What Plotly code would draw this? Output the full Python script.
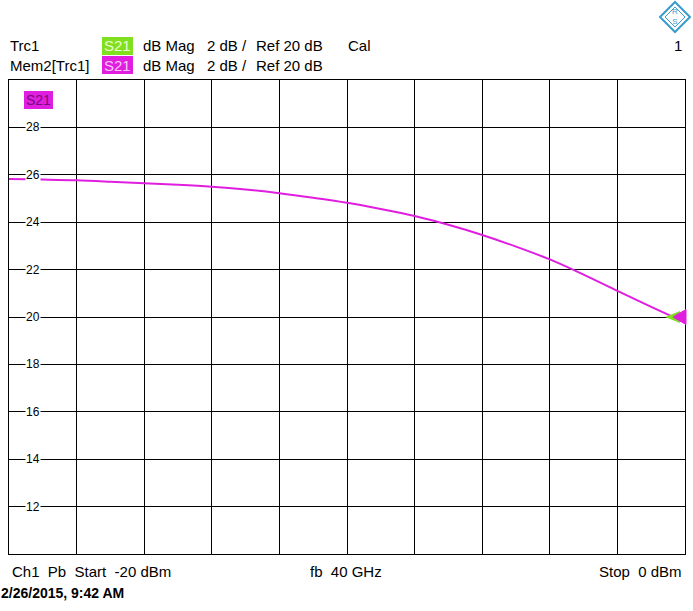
import plotly.graph_objects as go

# ---- data ----
power_dbm = [-20, -19, -18, -17, -16, -15, -14, -13, -12, -11, -10,
             -9, -8, -7, -6, -5, -4, -3, -2, -1, 0]
s21_db = [25.82, 25.80, 25.77, 25.71, 25.64, 25.58, 25.50, 25.38, 25.22, 25.03, 24.82,
          24.56, 24.26, 23.89, 23.46, 22.97, 22.43, 21.79, 21.10, 20.43, 19.77]
y_tick_labels = [28, 26, 24, 22, 20, 18, 16, 14, 12]
ref_level = 20
x_start, x_stop = -20, 0
y_min, y_max = 10, 30

W, H = 693, 611
L, R, T, B = 9, 8, 80, 57
PW, PH = W - L - R, H - T - B

def px(x):
    return (x - L) / PW

def py(y):
    return (H - B - y) / PH

MAG = "#e01ee0"
GREEN = "#80e020"
FONT = "Liberation Sans"
SP = "&nbsp;"

fig = go.Figure()
fig.add_trace(go.Scatter(x=power_dbm, y=s21_db, mode="lines",
                         line=dict(color=MAG, width=2, shape="spline"),
                         hoverinfo="skip", showlegend=False))

fig.update_xaxes(range=[x_start, x_stop], dtick=2, showticklabels=False,
                 showgrid=True, gridcolor="black", gridwidth=1,
                 showline=True, linecolor="black", linewidth=1, mirror=True,
                 zeroline=False, ticks="")
fig.update_yaxes(range=[y_min, y_max], dtick=2, showticklabels=False,
                 showgrid=True, gridcolor="black", gridwidth=1,
                 showline=True, linecolor="black", linewidth=1, mirror=True,
                 zeroline=False, ticks="")

ann = []
def text(x, y, s, size=15, anchor="left", color="black", bold=False, bg=None, yref="paper", xref="paper", **kw):
    d = dict(x=x, y=y, xref=xref, yref=yref, text=("<b>%s</b>" % s) if bold else s,
             showarrow=False, xanchor=anchor, yanchor="middle",
             font=dict(family=FONT, size=size, color=color))
    if bg:
        d["bgcolor"] = bg
    d.update(kw)
    ann.append(d)

# y tick labels inside plot
for v in y_tick_labels:
    text(px(33), v, str(v), size=12, anchor="center", bg="white", yref="y", borderpad=0)

# header
for yy, name in ((46, "Trc1"), (65, "Mem2[Trc1]")):
    text(px(8), py(yy), name)
    text(px(141), py(yy), "dB Mag")
    text(px(205), py(yy), "2 dB /")
    text(px(254), py(yy), "Ref 20 dB")
text(px(346), py(46), "Cal")
text(px(684), py(46), "1", anchor="right")

# trace-name boxes in header
shapes = []
shapes.append(dict(type="rect", xref="paper", yref="paper", x0=px(102), x1=px(133),
                   y0=py(55), y1=py(37), fillcolor=GREEN, line=dict(width=0), layer="above"))
shapes.append(dict(type="rect", xref="paper", yref="paper", x0=px(102), x1=px(133),
                   y0=py(74), y1=py(56), fillcolor=MAG, line=dict(width=0), layer="above"))
text(px(117.5), py(46), "S21", anchor="center", color="#e8ffd0")
text(px(117.5), py(65), "S21", anchor="center", color="#ffc8ff")

# S21 box inside plot
shapes.append(dict(type="rect", xref="paper", yref="paper", x0=px(24), x1=px(53),
                   y0=py(109), y1=py(91), fillcolor=MAG, line=dict(width=0), layer="above"))
text(px(38.5), py(100), "S21", size=14, anchor="center", color="#7a0a7a")

# footer
text(px(10), py(571), "Ch1" + SP * 2 + "Pb" + SP * 2 + "Start" + SP * 2 + "-20 dBm")
text(px(346), py(571), "fb" + SP * 2 + "40 GHz", anchor="center")
text(px(684), py(571), "Stop" + SP * 2 + "0 dBm", anchor="right")
text(px(-1), py(593), "2/26/2015, 9:42 AM", size=14, bold=True)

# reference-level markers at right edge
shapes.append(dict(type="path", xref="paper", xsizemode="pixel", xanchor=1,
                   yref="y", ysizemode="pixel", yanchor=ref_level,
                   path="M -5,-6 L -20,0 L -5,6 Z", fillcolor=GREEN,
                   line=dict(width=0), layer="above"))
shapes.append(dict(type="path", xref="paper", xsizemode="pixel", xanchor=1,
                   yref="y", ysizemode="pixel", yanchor=ref_level,
                   path="M 1,-7.5 L -12,0 L 1,7.5 Z", fillcolor=MAG,
                   line=dict(color=MAG, width=1), layer="above"))

# R&S logo
LOGO = "#3a9ccc"
shapes.append(dict(type="path", xref="paper", xsizemode="pixel", xanchor=px(675),
                   yref="paper", ysizemode="pixel", yanchor=py(17),
                   path="M 0,15 L 15,0 L 0,-15 L -15,0 Z", fillcolor="white",
                   line=dict(color=LOGO, width=2)))
shapes.append(dict(type="path", xref="paper", xsizemode="pixel", xanchor=px(675),
                   yref="paper", ysizemode="pixel", yanchor=py(17),
                   path="M 0,10 L 10,0 L 0,-10 L -10,0 Z",
                   line=dict(color=LOGO, width=1)))
text(px(675), py(17), "R<br>S", size=8, anchor="center", color=LOGO)

fig.update_layout(width=W, height=H, margin=dict(l=L, r=R, t=T, b=B),
                  paper_bgcolor="white", plot_bgcolor="white",
                  annotations=ann, shapes=shapes, showlegend=False)

fig.write_html("out.html", config={"displayModeBar": False},
               post_script="document.body.style.margin='0';document.body.style.padding='0';")
